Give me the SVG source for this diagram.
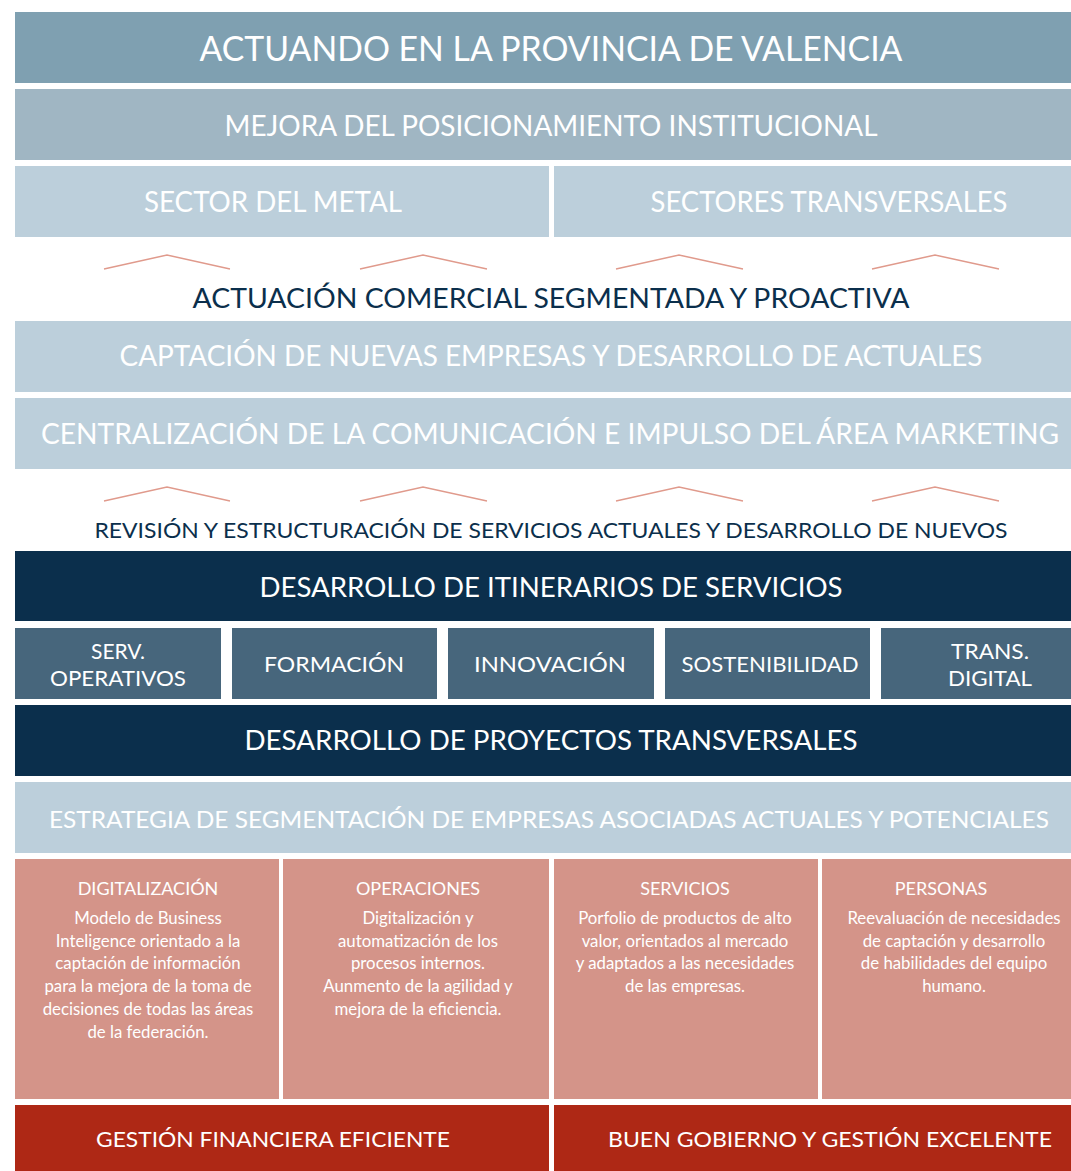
<svg xmlns="http://www.w3.org/2000/svg" width="1071" height="1171" viewBox="0 0 1071 1171">
<style>
text{font-family:Lato,"Liberation Sans",sans-serif;text-anchor:middle}
.w{fill:#ffffff}
.n{fill:#0b2f4c}
.b1{fill:#7fa0b1}
.b2{fill:#a0b6c3}
.b3{fill:#bccfdb}
.dk{fill:#0b2f4c}
.md{fill:#47667c}
.sa{fill:#d49489}
.rd{fill:#ae2815}
.chev{fill:none;stroke:#e09a8c;stroke-width:1.3}
.ht{font-size:18px}
.bt{font-size:16.8px}
</style>
<rect width="1071" height="1171" fill="#ffffff"/>
<g id="actuando"><rect class="b1" x="15" y="12" width="1056" height="71"/><text class="w" x="551" y="61" font-size="35" textLength="703" lengthAdjust="spacingAndGlyphs">ACTUANDO EN LA PROVINCIA DE VALENCIA</text></g>
<g id="mejora"><rect class="b2" x="15" y="89" width="1056" height="71"/><text class="w" x="551" y="136" font-size="28" textLength="653" lengthAdjust="spacingAndGlyphs">MEJORA DEL POSICIONAMIENTO INSTITUCIONAL</text></g>
<g id="metal"><rect class="b3" x="15" y="166" width="534" height="71"/><text class="w" x="273" y="212" font-size="28" textLength="258" lengthAdjust="spacingAndGlyphs">SECTOR DEL METAL</text></g>
<g id="transversales"><rect class="b3" x="554" y="166" width="517" height="71"/><text class="w" x="829" y="212" font-size="28" textLength="357" lengthAdjust="spacingAndGlyphs">SECTORES TRANSVERSALES</text></g>
<g id="connectors">
<polyline class="chev" points="104,269 167,255 230,269"/>
<polyline class="chev" points="360,269 423,255 487,269"/>
<polyline class="chev" points="616,269 679,255 743,269"/>
<polyline class="chev" points="872,269 935,255 999,269"/>
<polyline class="chev" points="104,501 167,487 230,501"/>
<polyline class="chev" points="360,501 423,487 487,501"/>
<polyline class="chev" points="616,501 679,487 743,501"/>
<polyline class="chev" points="872,501 935,487 999,501"/>
</g>
<g id="actuacion"><text class="n" x="551" y="308" font-size="26" textLength="717" lengthAdjust="spacingAndGlyphs">ACTUACIÓN COMERCIAL SEGMENTADA Y PROACTIVA</text></g>
<g id="captacion"><rect class="b3" x="15" y="321" width="1056" height="71"/><text class="w" x="551" y="366" font-size="28" textLength="863" lengthAdjust="spacingAndGlyphs">CAPTACIÓN DE NUEVAS EMPRESAS Y DESARROLLO DE ACTUALES</text></g>
<g id="centralizacion"><rect class="b3" x="15" y="398" width="1056" height="71"/><text class="w" x="550" y="444" font-size="28" textLength="1018" lengthAdjust="spacingAndGlyphs">CENTRALIZACIÓN DE LA COMUNICACIÓN E IMPULSO DEL ÁREA MARKETING</text></g>
<g id="revision"><text class="n" x="551" y="538" font-size="21" textLength="913" lengthAdjust="spacingAndGlyphs">REVISIÓN Y ESTRUCTURACIÓN DE SERVICIOS ACTUALES Y DESARROLLO DE NUEVOS</text></g>
<g id="itinerarios"><rect class="dk" x="15" y="551" width="1056" height="70"/><text class="w" x="551" y="597" font-size="27" textLength="583" lengthAdjust="spacingAndGlyphs">DESARROLLO DE ITINERARIOS DE SERVICIOS</text></g>
<g id="serv-operativos"><rect class="md" x="15" y="628" width="206" height="71"/><text class="w" x="118" y="659" font-size="21">SERV.</text><text class="w" x="118" y="686" font-size="21" textLength="136" lengthAdjust="spacingAndGlyphs">OPERATIVOS</text></g>
<g id="formacion"><rect class="md" x="232" y="628" width="205" height="71"/><text class="w" x="334" y="672" font-size="21" textLength="140" lengthAdjust="spacingAndGlyphs">FORMACIÓN</text></g>
<g id="innovacion"><rect class="md" x="448" y="628" width="206" height="71"/><text class="w" x="550" y="672" font-size="21" textLength="152" lengthAdjust="spacingAndGlyphs">INNOVACIÓN</text></g>
<g id="sostenibilidad"><rect class="md" x="665" y="628" width="205" height="71"/><text class="w" x="770" y="672" font-size="21" textLength="177" lengthAdjust="spacingAndGlyphs">SOSTENIBILIDAD</text></g>
<g id="trans-digital"><rect class="md" x="881" y="628" width="190" height="71"/><text class="w" x="990" y="659" font-size="21" textLength="78" lengthAdjust="spacingAndGlyphs">TRANS.</text><text class="w" x="990" y="686" font-size="21" textLength="84" lengthAdjust="spacingAndGlyphs">DIGITAL</text></g>
<g id="proyectos"><rect class="dk" x="15" y="705" width="1056" height="71"/><text class="w" x="551" y="750" font-size="27" textLength="613" lengthAdjust="spacingAndGlyphs">DESARROLLO DE PROYECTOS TRANSVERSALES</text></g>
<g id="estrategia"><rect class="b3" x="15" y="782" width="1056" height="71"/><text class="w" x="549" y="828" font-size="24" textLength="1000" lengthAdjust="spacingAndGlyphs">ESTRATEGIA DE SEGMENTACIÓN DE EMPRESAS ASOCIADAS ACTUALES Y POTENCIALES</text></g>
<g id="digitalizacion"><rect class="sa" x="15" y="859" width="264" height="240"/>
<text class="w ht" x="148" y="895">DIGITALIZACIÓN</text>
<text class="w bt"><tspan x="148" y="924">Modelo de Business</tspan><tspan x="148" y="946.7">Inteligence orientado a la</tspan><tspan x="148" y="969.4">captación de información</tspan><tspan x="148" y="992.1">para la mejora de la toma de</tspan><tspan x="148" y="1014.8">decisiones de todas las áreas</tspan><tspan x="148" y="1037.5">de la federación.</tspan></text></g>
<g id="operaciones"><rect class="sa" x="283" y="859" width="266" height="240"/>
<text class="w ht" x="418" y="895">OPERACIONES</text>
<text class="w bt"><tspan x="418" y="924">Digitalización y</tspan><tspan x="418" y="946.7">automatización de los</tspan><tspan x="418" y="969.4">procesos internos.</tspan><tspan x="418" y="992.1">Aunmento de la agilidad y</tspan><tspan x="418" y="1014.8">mejora de la eficiencia.</tspan></text></g>
<g id="servicios"><rect class="sa" x="554" y="859" width="264" height="240"/>
<text class="w ht" x="685" y="895">SERVICIOS</text>
<text class="w bt"><tspan x="685" y="924">Porfolio de productos de alto</tspan><tspan x="685" y="946.7">valor, orientados al mercado</tspan><tspan x="685" y="969.4">y adaptados a las necesidades</tspan><tspan x="685" y="992.1">de las empresas.</tspan></text></g>
<g id="personas"><rect class="sa" x="822" y="859" width="249" height="240"/>
<text class="w ht" x="941" y="895">PERSONAS</text>
<text class="w bt"><tspan x="954" y="924">Reevaluación de necesidades</tspan><tspan x="954" y="946.7">de captación y desarrollo</tspan><tspan x="954" y="969.4">de habilidades del equipo</tspan><tspan x="954" y="992.1">humano.</tspan></text></g>
<g id="gestion-financiera"><rect class="rd" x="15" y="1105" width="534" height="66"/><text class="w" x="273" y="1147" font-size="22" textLength="354" lengthAdjust="spacingAndGlyphs">GESTIÓN FINANCIERA EFICIENTE</text></g>
<g id="buen-gobierno"><rect class="rd" x="554" y="1105" width="517" height="66"/><text class="w" x="830" y="1147" font-size="22" textLength="444" lengthAdjust="spacingAndGlyphs">BUEN GOBIERNO Y GESTIÓN EXCELENTE</text></g>
</svg>
